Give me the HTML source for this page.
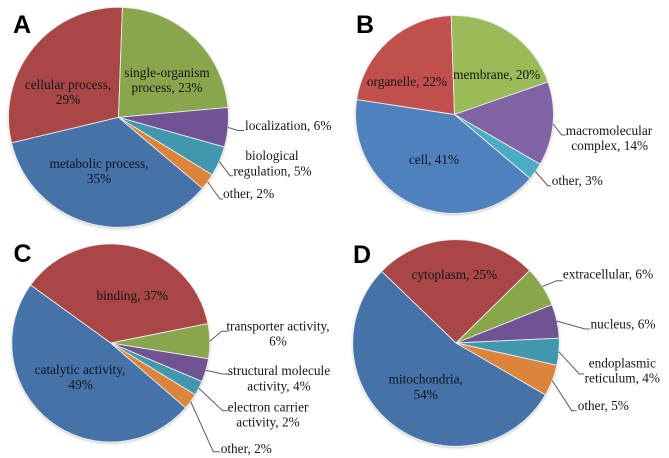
<!DOCTYPE html>
<html lang="en">
<head>
<meta charset="utf-8">
<title>Gene ontology pie charts</title>
<style>
html,body{margin:0;padding:0;background:#fff;}
#figure{display:block;width:669px;height:458px;}
.lbl{font-family:"Liberation Serif",serif;font-size:13.3px;fill:#161616;}
.in{fill:#14141c;}
.mid{text-anchor:middle;}
.panel{font-family:"Liberation Sans",sans-serif;font-weight:700;font-size:25px;fill:#050505;}
</style>
</head>
<body>
<svg id="figure" xmlns="http://www.w3.org/2000/svg" width="669" height="458" viewBox="0 0 669 458">
  <defs>
    <filter id="soft" x="-2%" y="-2%" width="104%" height="104%"><feGaussianBlur stdDeviation="0.35"/></filter>
    <filter id="pieShadow" x="-5%" y="-5%" width="110%" height="112%"><feDropShadow dx="0" dy="1.2" stdDeviation="1" flood-color="#000" flood-opacity="0.2"/></filter>
  </defs>
  <g filter="url(#soft)">
    <g id="pieA"></g>
    <g id="pieB"></g>
    <g id="pieC"></g>
    <g id="pieD"></g>

    <text class="panel" x="13" y="33">A</text>
    <text class="panel" x="356" y="33">B</text>
    <text class="panel" x="13.5" y="262">C</text>
    <text class="panel" x="353" y="263">D</text>

    <g>
      <text class="lbl in mid" x="68" y="89">cellular process,<tspan x="68" y="104">29%</tspan></text>
      <text class="lbl in mid" x="167" y="77">single-organism<tspan x="167" y="92">process, 23%</tspan></text>
      <text class="lbl in mid" x="99" y="168">metabolic process,<tspan x="99" y="183">35%</tspan></text>
      <text class="lbl" x="245" y="130">localization, 6%</text>
      <text class="lbl mid" x="272" y="160">biological<tspan x="272.5" y="175.7">regulation, 5%</tspan></text>
      <text class="lbl" x="223" y="198">other, 2%</text>
    </g>

    <g>
      <text class="lbl in mid" x="407" y="86">organelle, 22%</text>
      <text class="lbl in mid" x="496.7" y="79">membrane, 20%</text>
      <text class="lbl in mid" x="434" y="164">cell, 41%</text>
      <text class="lbl mid" x="609" y="135">macromolecular<tspan x="609.7" y="150">complex, 14%</tspan></text>
      <text class="lbl" x="551.7" y="185">other, 3%</text>
    </g>

    <g>
      <text class="lbl in mid" x="132.3" y="300">binding, 37%</text>
      <text class="lbl in mid" x="80" y="374">catalytic activity,<tspan x="80.7" y="389">49%</tspan></text>
      <text class="lbl mid" x="278" y="330.7">transporter activity,<tspan x="278" y="345.7">6%</tspan></text>
      <text class="lbl mid" x="279" y="375">structural molecule<tspan x="279" y="390.3">activity, 4%</tspan></text>
      <text class="lbl mid" x="268" y="411.3">electron carrier<tspan x="268" y="426.3">activity, 2%</tspan></text>
      <text class="lbl" x="220.7" y="453">other, 2%</text>
    </g>

    <g>
      <text class="lbl in mid" x="454.3" y="279">cytoplasm, 25%</text>
      <text class="lbl in mid" x="425.7" y="383.3">mitochondria,<tspan x="425.7" y="399">54%</tspan></text>
      <text class="lbl mid" x="608" y="278.3">extracellular, 6%</text>
      <text class="lbl mid" x="623" y="328.3">nucleus, 6%</text>
      <text class="lbl mid" x="622.3" y="367.7">endoplasmic<tspan x="622.3" y="382.3">reticulum, 4%</tspan></text>
      <text class="lbl" x="577.7" y="410">other, 5%</text>
    </g>
  </g>
</svg>
<script>
// Panel A: biological process
const categoriesA = ["metabolic-process", "cellular-process", "single-organism-process", "localization", "biological-regulation", "other"];
const valuesA = [35.1, 29.3, 23.0, 5.8, 4.4, 2.4];
// Panel B: cellular component
const categoriesB = ["cell", "organelle", "membrane", "macromolecular-complex", "other"];
const valuesB = [41.25, 22.05, 20.2, 13.7, 2.8];
// Panel C: molecular function
const categoriesC = ["catalytic-activity", "binding", "transporter-activity", "structural-molecule-activity", "electron-carrier-activity", "other"];
const valuesC = [48.6, 36.9, 5.7, 3.8, 2.4, 2.6];
// Panel D: subcellular location
const categoriesD = ["mitochondria", "cytoplasm", "extracellular", "nucleus", "endoplasmic-reticulum", "other"];
const valuesD = [53.8, 25.4, 6.3, 5.3, 4.2, 4.9];

// Appearance and layout, separate from the data
const darkPalette = ["#4572a8", "#a84644", "#8aa64e", "#6f5393", "#3f97ae", "#dc843b"];
const brightPalette = ["#4f81bd", "#c0504d", "#9bbb59", "#8064a2", "#4bacc6"];
const leaderBendsA = [null, null, null, [238, 130.5, 244, 130.5], [230, 175.7, 233, 175.7], [220, 199, 223, 199]];
const leaderBendsB = [null, null, null, [561.7, 135, 565.7, 135], [547.7, 185.7, 551, 185.7]];
const leaderBendsC = [null, null, [221.7, 331.3, 228.3, 331.3], [222.7, 374, 229.3, 374], [222.7, 410.7, 228.3, 410.7], [213.3, 451.7, 220, 451.7]];
const leaderBendsD = [null, null, [556.7, 280.7, 562.7, 280.7], [585, 329, 590, 329], [579.3, 374, 584.3, 374], [571.7, 410.7, 576.7, 410.7]];

const SVG_NS = "http://www.w3.org/2000/svg";

function angleScale(values) {
  const total = values.reduce(function (a, b) { return a + b; }, 0);
  return function (v) { return v / total * 360; };
}

function polar(cx, cy, r, deg) {
  const t = deg * Math.PI / 180;
  return [cx + r * Math.sin(t), cy - r * Math.cos(t)];
}

function drawPie(groupId, panel, categories, values, palette, leaders, cx, cy, r, startDeg) {
  const group = document.getElementById(groupId);
  const toDeg = angleScale(values);
  const sliceGroup = document.createElementNS(SVG_NS, "g");
  sliceGroup.setAttribute("filter", "url(#pieShadow)");
  
  
  group.appendChild(sliceGroup);
  let a = startDeg;
  values.forEach(function (v, i) {
    const sweep = toDeg(v);
    const p0 = polar(cx, cy, r, a);
    const p1 = polar(cx, cy, r, a + sweep);
    const large = sweep > 180 ? 1 : 0;
    const path = document.createElementNS(SVG_NS, "path");
    path.setAttribute("d", "M" + cx + " " + cy + "L" + p0[0] + " " + p0[1] + "A" + r + " " + r + " 0 " + large + " 1 " + p1[0] + " " + p1[1] + "Z");
    path.setAttribute("fill", palette[i]);
    path.setAttribute("stroke", "#ebebeb");
    path.setAttribute("stroke-width", "0.9");
    path.setAttribute("stroke-linejoin", "round");
    
    
    sliceGroup.appendChild(path);
    if (leaders[i]) {
      const s = polar(cx, cy, r, a + sweep / 2);
      const line = document.createElementNS(SVG_NS, "polyline");
      line.setAttribute("points", s[0] + "," + s[1] + " " + leaders[i][0] + "," + leaders[i][1] + " " + leaders[i][2] + "," + leaders[i][3]);
      line.setAttribute("fill", "none");
      line.setAttribute("stroke", "#5c5c5c");
      line.setAttribute("stroke-width", "1");
      
      
      group.appendChild(line);
    }
    a += sweep;
  });
}

drawPie("pieA", "a", categoriesA, valuesA, darkPalette, leaderBendsA, 118.5, 117.3, 110, 130.2);
drawPie("pieB", "b", categoriesB, valuesB, brightPalette, leaderBendsB, 454.5, 114.5, 99, 130.2);
drawPie("pieC", "c", categoriesC, valuesC, darkPalette, leaderBendsC, 110.8, 343, 99, 130.9);
drawPie("pieD", "d", categoriesD, valuesD, darkPalette, leaderBendsD, 456, 343, 103.3, 120.1);
</script>
</body>
</html>
